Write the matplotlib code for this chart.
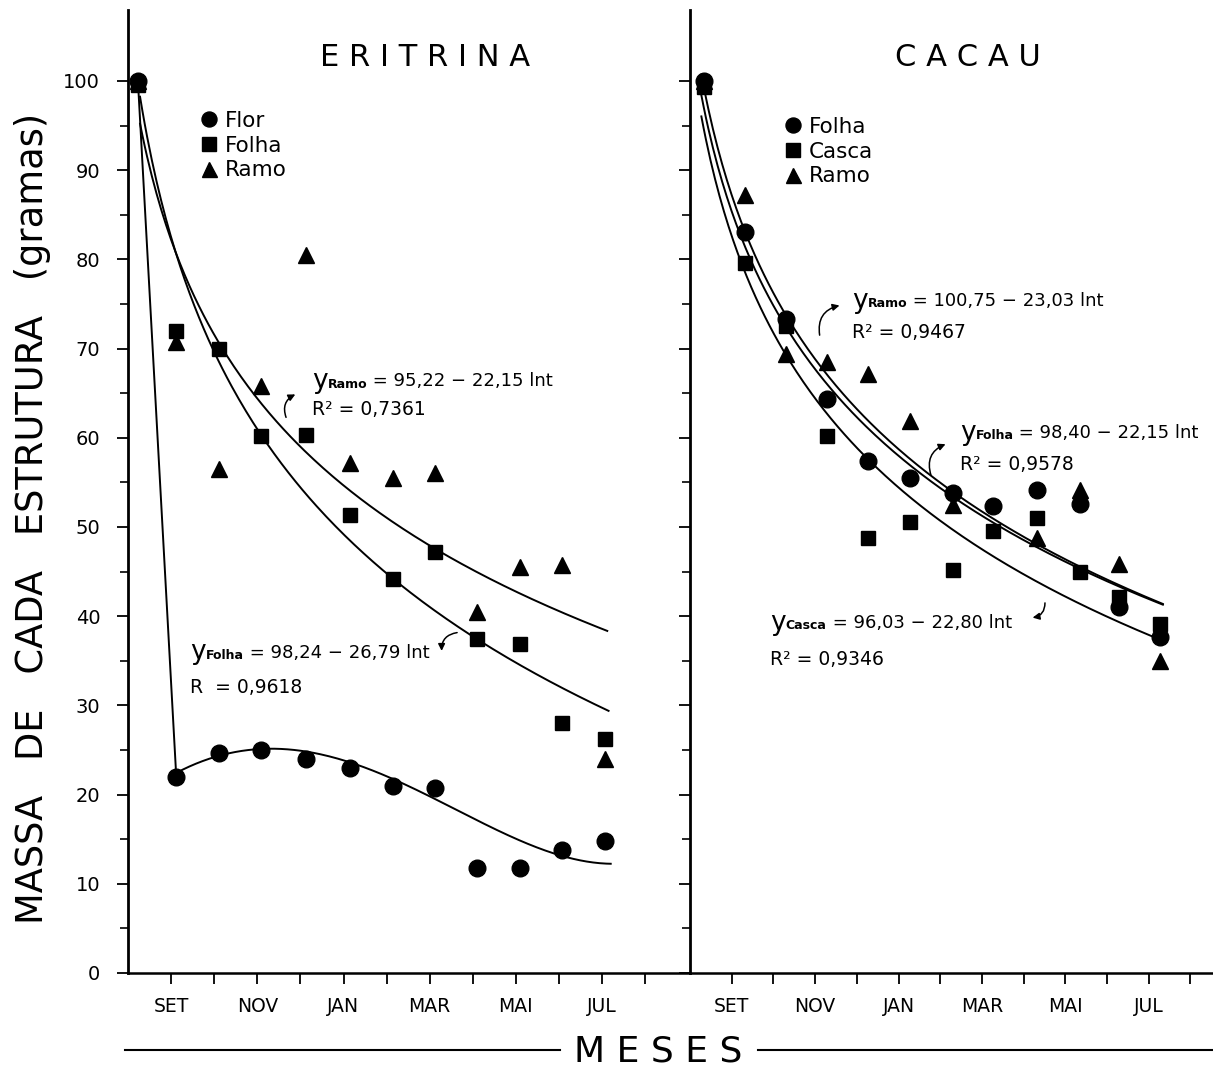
'''
    Decomposicao de eritrina e cacau: massa remanescente ao longo dos meses
'''

import numpy as np
import matplotlib
matplotlib.use('Agg')
import matplotlib.pyplot as plt
from matplotlib.lines import Line2D


W, H = 1213, 1068  # figure size in pixels

months = ['SET', 'OUT', 'NOV', 'DEZ', 'JAN', 'FEV', 'MAR', 'ABR', 'MAI', 'JUN', 'JUL', 'AGO']

# ERITRINA (x in months from start of axis)
eri_x = [0.23, 1.12, 2.12, 3.08, 4.12, 5.14, 6.14, 7.12, 8.10, 9.10, 10.08, 11.06]
eri_flor = [100, 22.0, 24.7, 25.0, 24.0, 23.0, 21.0, 20.7, 11.8, 11.8, 13.8, 14.8]
eri_folha = [99.5, 72.0, 70.0, 60.2, 60.3, 51.3, 44.2, 47.2, 37.4, 36.9, 28.0, 26.2]
eri_ramo = [100, 70.7, 56.5, 65.8, 80.5, 57.2, 55.5, 56.0, 40.5, 45.5, 45.7, 24.0]
# hand drawn trend through the flor samples (read at sample dates)
eri_flor_trend = [22.4, 24.5, 25.0, 24.7, 23.8, 21.8, 19.6, 16.9, 14.8, 13.3, 12.2]

# CACAU
cac_x = [0.34, 1.32, 2.30, 3.29, 4.27, 5.28, 6.31, 7.27, 8.32, 9.35, 10.29, 11.27]
cac_folha = [100, 83.1, 73.3, 64.4, 57.4, 55.5, 53.8, 52.4, 54.2, 52.6, 41.0, 37.7]
cac_casca = [99.3, 79.6, 72.5, 60.2, 48.8, 50.6, 45.2, 49.5, 51.0, 44.9, 42.1, 39.1]
cac_ramo = [100, 87.2, 69.4, 68.5, 67.2, 61.9, 52.5, np.nan, 48.8, 54.2, 45.8, 35.0]

# regressions y = a - b ln t  (a, b, R2)
eri_ramo_fit = (95.22, 22.15, '0,7361')
eri_folha_fit = (98.24, 26.79, '0,9618')
cac_ramo_fit = (100.75, 23.03, '0,9467')
cac_folha_fit = (98.40, 22.15, '0,9578')
cac_casca_fit = (96.03, 22.80, '0,9346')


def px_axes(fig, x0, x1, y0, y1):
    return fig.add_axes([x0/W, 1 - y1/H, (x1 - x0)/W, (y1 - y0)/H])


def style_axes(ax, xmax, ylabels=True):
    ax.set_xlim(0, xmax)
    ax.set_ylim(0, 963/8.92)
    for s in ['top', 'right']:
        ax.spines[s].set_visible(False)
    ax.spines['left'].set_linewidth(2.0)
    ax.spines['bottom'].set_linewidth(1.8)
    ax.set_yticks(range(0, 101, 10))
    ax.set_yticks(range(5, 100, 10), minor=True)
    ax.set_xticks(range(1, 13))
    ax.set_xticklabels([m if i % 2 == 0 else '' for i, m in enumerate(months)])
    ax.tick_params(axis='both', direction='out', width=1.3)
    ax.tick_params(axis='x', length=8, pad=9, labelsize=13.5)
    ax.tick_params(axis='y', which='major', length=8, pad=12, labelsize=14)
    ax.tick_params(axis='y', which='minor', length=6, width=1.2)
    if not ylabels:
        ax.set_yticklabels([])
    ax.patch.set_alpha(0)


def log_curve(ax, fit, t_slope, t_off, x_end):
    a, b, _ = fit
    x = np.linspace((1 - t_off)/t_slope, x_end, 200)
    t = t_slope*x + t_off
    ax.plot(x, a - b*np.log(t), color='k', lw=1.4)


def eq_text(ax, name, rhs, x, y):
    # big "y", small bold subscript, then the right hand side
    ty = ax.text(x, y, 'y', fontsize=19, va='baseline')
    ts = ax.annotate(name, xy=(1, 0.12), xycoords=ty, fontsize=9, fontweight='bold',
                     va='bottom')
    ax.annotate(rhs, xy=(1, 0.03), xycoords=ts, fontsize=13, va='bottom')


def equation(ax, name, fit, x, y, dy):
    a, b, r2 = fit
    rhs = ' = %s − %s lnt' % (('%.2f' % a).replace('.', ','), ('%.2f' % b).replace('.', ','))
    eq_text(ax, name, rhs, x, y)
    ax.text(x, y - dy, 'R² = ' + r2, fontsize=13.5, va='baseline')


def curly_arrow(ax, tail, head, rad):
    ax.annotate('', xy=head, xytext=tail,
                arrowprops=dict(arrowstyle='-|>', lw=1.1, color='k', mutation_scale=10,
                                connectionstyle='arc3,rad=%s' % rad))


def markers(ax, x, yc, ys, yt, labels):
    ht = ax.plot(x, yt, '^', color='k', ms=12, ls='none', label=labels[2])[0]
    hs = ax.plot(x, ys, 's', color='k', ms=10.5, ls='none', label=labels[1])[0]
    hc = ax.plot(x, yc, 'o', color='k', ms=12, ls='none', label=labels[0])[0]
    return [hc, hs, ht]


def add_legend(ax, fig, handles, x0, y0):
    ax.legend(handles=handles, loc='upper left', bbox_to_anchor=(x0/W, 1 - y0/H),
              bbox_transform=fig.transFigure, frameon=False, fontsize=15.5,
              handlelength=0.8, handletextpad=0.35, labelspacing=0.22, borderpad=0,
              borderaxespad=0, markerscale=0.9)


if __name__ == '__main__':
    plt.rcParams['font.family'] = 'DejaVu Sans'
    fig = plt.figure(figsize=(W/100, H/100), dpi=100)

    ## ERITRINA
    ax1 = px_axes(fig, 128, 690, 10, 973)
    style_axes(ax1, 562/43.1)
    log_curve(ax1, eri_ramo_fit, 1.11, 0.69, 11.12)
    log_curve(ax1, eri_folha_fit, 1.11, 0.69, 11.15)
    # flor: drop to first sample then smooth trend
    ax1.plot(eri_x[:2], eri_flor[:2], color='k', lw=1.4)
    c = np.polyfit(eri_x[1:], eri_flor_trend, 4)
    xf = np.linspace(eri_x[1], 11.2, 200)
    ax1.plot(xf, np.polyval(c, xf), color='k', lw=1.4)
    h = markers(ax1, eri_x, eri_flor, eri_folha, eri_ramo, ['Flor', 'Folha', 'Ramo'])
    add_legend(ax1, fig, h, 200, 111)
    equation(ax1, 'Ramo', eri_ramo_fit, 4.27, 65.6, 3.0)
    eq_text(ax1, 'Folha', ' = 98,24 − 26,79 lnt', 1.44, 35.2)
    ax1.text(1.44, 31.4, 'R  = 0,9618', fontsize=13.5, va='baseline')
    curly_arrow(ax1, (3.69, 62.0), (3.94, 65.0), -0.5)
    curly_arrow(ax1, (7.70, 38.2), (7.28, 35.8), 0.5)

    ## CACAU
    ax2 = px_axes(fig, 690, 1213, 10, 973)
    style_axes(ax2, 523/41.7, ylabels=False)
    log_curve(ax2, cac_ramo_fit, 1.10, 0.70, 11.34)
    log_curve(ax2, cac_folha_fit, 1.10, 0.70, 11.34)
    log_curve(ax2, cac_casca_fit, 1.10, 0.70, 11.10)
    h = markers(ax2, cac_x, cac_folha, cac_casca, cac_ramo, ['Folha', 'Casca', 'Ramo'])
    add_legend(ax2, fig, h, 784, 117)
    equation(ax2, 'Ramo', cac_ramo_fit, 3.88, 74.6, 3.4)
    equation(ax2, 'Folha', cac_folha_fit, 6.47, 59.8, 3.4)
    equation(ax2, 'Casca', cac_casca_fit, 1.92, 38.5, 4.0)
    curly_arrow(ax2, (3.12, 71.2), (3.65, 74.9), -0.5)
    curly_arrow(ax2, (5.80, 55.5), (6.19, 59.4), -0.5)
    curly_arrow(ax2, (8.51, 41.8), (8.15, 39.8), -0.5)

    ## titles and labels
    fig.text(425/W, 1 - 58/H, 'E R I T R I N A', fontsize=22, ha='center', va='center')
    fig.text(968/W, 1 - 58/H, 'C A C A U', fontsize=22, ha='center', va='center')
    fig.text(33/W, 1 - 518/H, 'MASSA   DE   CADA   ESTRUTURA   (gramas)', fontsize=26.5,
             rotation=90, ha='center', va='center')
    fig.text(658/W, 1 - 1052/H, 'M E S E S', fontsize=26, ha='center', va='center')
    fig.add_artist(Line2D([125/W, 560/W], [1 - 1050/H]*2, color='k', lw=1.5))
    fig.add_artist(Line2D([758/W, 1213/W], [1 - 1050/H]*2, color='k', lw=1.5))

    fig.savefig('out.png', dpi=100)
